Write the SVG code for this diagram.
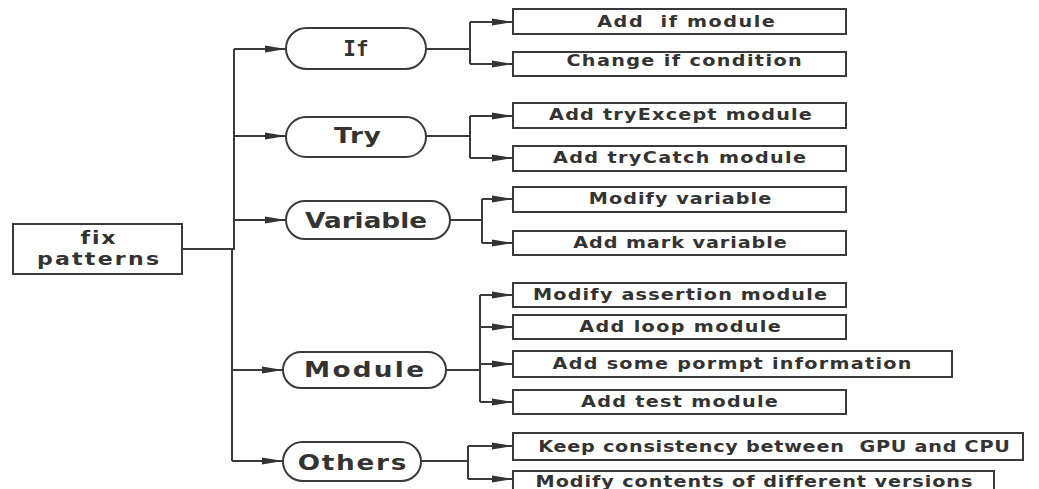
<svg xmlns="http://www.w3.org/2000/svg" width="1039" height="489" viewBox="0 0 1039 489">
<style>
.box{fill:#fff;stroke:#3a3a3a;stroke-width:2}
.pill{fill:#fff;stroke:#3a3a3a;stroke-width:2}
.t{font-family:"DejaVu Sans",Verdana,sans-serif;font-weight:bold;fill:#333;text-anchor:middle;font-variant-ligatures:none}
.s{font-size:16px}
.p{font-size:21px}
.m{font-family:"DejaVu Sans Mono",monospace}
.c{fill:none;stroke:#3a3a3a;stroke-width:2}
</style>
<defs>
<marker id="ah" markerUnits="userSpaceOnUse" markerWidth="21" markerHeight="8" refX="21" refY="4" orient="auto">
<path d="M0,0.5 L21,4 L0,7.5 z" fill="#333"/>
</marker>
</defs>
<rect width="1039" height="489" fill="#fff"/>
<g id="connectors">
<path class="c" d="M182,249 H234 V49"/>
<path class="c" d="M232,249 V461"/>
<path class="c" d="M234,49 H286" marker-end="url(#ah)"/>
<path class="c" d="M234,136 H286" marker-end="url(#ah)"/>
<path class="c" d="M234,220 H286" marker-end="url(#ah)"/>
<path class="c" d="M232,370 H283" marker-end="url(#ah)"/>
<path class="c" d="M232,461 H283" marker-end="url(#ah)"/>
<path class="c" d="M426,49 H470"/>
<path class="c" d="M470,22 V64"/>
<path class="c" d="M470,22 H513" marker-end="url(#ah)"/>
<path class="c" d="M470,64 H513" marker-end="url(#ah)"/>
<path class="c" d="M426,136 H470"/>
<path class="c" d="M470,116 V158"/>
<path class="c" d="M470,116 H513" marker-end="url(#ah)"/>
<path class="c" d="M470,158 H513" marker-end="url(#ah)"/>
<path class="c" d="M450,220 H482"/>
<path class="c" d="M482,199 V243"/>
<path class="c" d="M482,199 H513" marker-end="url(#ah)"/>
<path class="c" d="M482,243 H513" marker-end="url(#ah)"/>
<path class="c" d="M446,370 H480"/>
<path class="c" d="M480,295 V402"/>
<path class="c" d="M480,295 H513" marker-end="url(#ah)"/>
<path class="c" d="M480,327 H513" marker-end="url(#ah)"/>
<path class="c" d="M480,364 H513" marker-end="url(#ah)"/>
<path class="c" d="M480,402 H513" marker-end="url(#ah)"/>
<path class="c" d="M421,461 H468"/>
<path class="c" d="M468,446 V479"/>
<path class="c" d="M468,446 H513" marker-end="url(#ah)"/>
<path class="c" d="M468,479 H513" marker-end="url(#ah)"/>
</g>
<g id="root">
<rect class="box" x="13" y="224" width="169" height="50"/>
<text class="t" transform="translate(98,244) scale(1.3,1)" x="0" y="0" font-size="17" textLength="27" lengthAdjust="spacing">fix</text>
<text class="t" transform="translate(98,265) scale(1.3,1)" x="0" y="0" font-size="17" textLength="94" lengthAdjust="spacing">patterns</text>
</g>
<g id="n-if">
<rect class="pill" x="286" y="28" width="140" height="41" rx="20.5"/>
<text class="t m" x="356" y="55.5" font-size="21">If</text>
</g>
<g id="n-try">
<rect class="pill" x="286" y="117" width="140" height="40" rx="20"/>
<text class="t p" transform="translate(357.5,143) scale(1.25,1)" x="0" y="0" textLength="37.6" lengthAdjust="spacing">Try</text>
</g>
<g id="n-variable">
<rect class="pill" x="286" y="201" width="164" height="38" rx="19"/>
<text class="t p" transform="translate(366,228) scale(1.25,1)" x="0" y="0" textLength="97.6" lengthAdjust="spacing">Variable</text>
</g>
<g id="n-module">
<rect class="pill" x="283" y="352" width="163" height="36" rx="18"/>
<text class="t p" transform="translate(364,377) scale(1.25,1)" x="0" y="0" textLength="96" lengthAdjust="spacing">Module</text>
</g>
<g id="n-others">
<rect class="pill" x="283" y="442" width="138" height="39" rx="19.5"/>
<text class="t p" transform="translate(352,469.5) scale(1.25,1)" x="0" y="0" textLength="87" lengthAdjust="spacing">Others</text>
</g>
<g id="b-add-if">
<rect class="box" x="513" y="9" width="333" height="25"/>
<text class="t s" transform="translate(686,26.5) scale(1.2,1)" x="0" y="0" textLength="148" lengthAdjust="spacing" xml:space="preserve">Add  if module</text>
</g>
<g id="b-change-if">
<rect class="box" x="513" y="52" width="333" height="24"/>
<text class="t s" transform="translate(684,66) scale(1.2,1)" x="0" y="0" textLength="196" lengthAdjust="spacing">Change if condition</text>
</g>
<g id="b-tryexcept">
<rect class="box" x="513" y="103" width="333" height="25"/>
<text class="t s" transform="translate(680.5,120) scale(1.2,1)" x="0" y="0" textLength="219" lengthAdjust="spacing">Add tryExcept module</text>
</g>
<g id="b-trycatch">
<rect class="box" x="513" y="146" width="333" height="25"/>
<text class="t s" transform="translate(679.5,163) scale(1.2,1)" x="0" y="0" textLength="211" lengthAdjust="spacing">Add tryCatch module</text>
</g>
<g id="b-modify-var">
<rect class="box" x="513" y="187" width="333" height="25"/>
<text class="t s" transform="translate(680,204) scale(1.2,1)" x="0" y="0" textLength="152" lengthAdjust="spacing">Modify variable</text>
</g>
<g id="b-mark-var">
<rect class="box" x="513" y="231" width="333" height="24"/>
<text class="t s" transform="translate(680,248) scale(1.2,1)" x="0" y="0" textLength="178" lengthAdjust="spacing">Add mark variable</text>
</g>
<g id="b-assertion">
<rect class="box" x="513" y="283" width="333" height="24"/>
<text class="t s" transform="translate(680,300) scale(1.2,1)" x="0" y="0" textLength="245" lengthAdjust="spacing">Modify assertion module</text>
</g>
<g id="b-loop">
<rect class="box" x="513" y="315" width="333" height="24"/>
<text class="t s" transform="translate(680,331.5) scale(1.2,1)" x="0" y="0" textLength="168" lengthAdjust="spacing">Add loop module</text>
</g>
<g id="b-prompt">
<rect class="box" x="513" y="351" width="439" height="26"/>
<text class="t s" transform="translate(732,369) scale(1.2,1)" x="0" y="0" textLength="299" lengthAdjust="spacing">Add some pormpt information</text>
</g>
<g id="b-test">
<rect class="box" x="513" y="390" width="333" height="24"/>
<text class="t s" transform="translate(679.5,406.5) scale(1.2,1)" x="0" y="0" textLength="164" lengthAdjust="spacing">Add test module</text>
</g>
<g id="b-gpu-cpu">
<rect class="box" x="513" y="433" width="510" height="27"/>
<text class="t s" transform="translate(774,451.5) scale(1.2,1)" x="0" y="0" textLength="393" lengthAdjust="spacing" xml:space="preserve">Keep consistency between  GPU and CPU</text>
</g>
<g id="b-versions">
<rect class="box" x="513" y="471" width="481" height="30"/>
<text class="t s" transform="translate(754,487) scale(1.2,1)" x="0" y="0" textLength="364" lengthAdjust="spacing">Modify contents of different versions</text>
</g>
</svg>
